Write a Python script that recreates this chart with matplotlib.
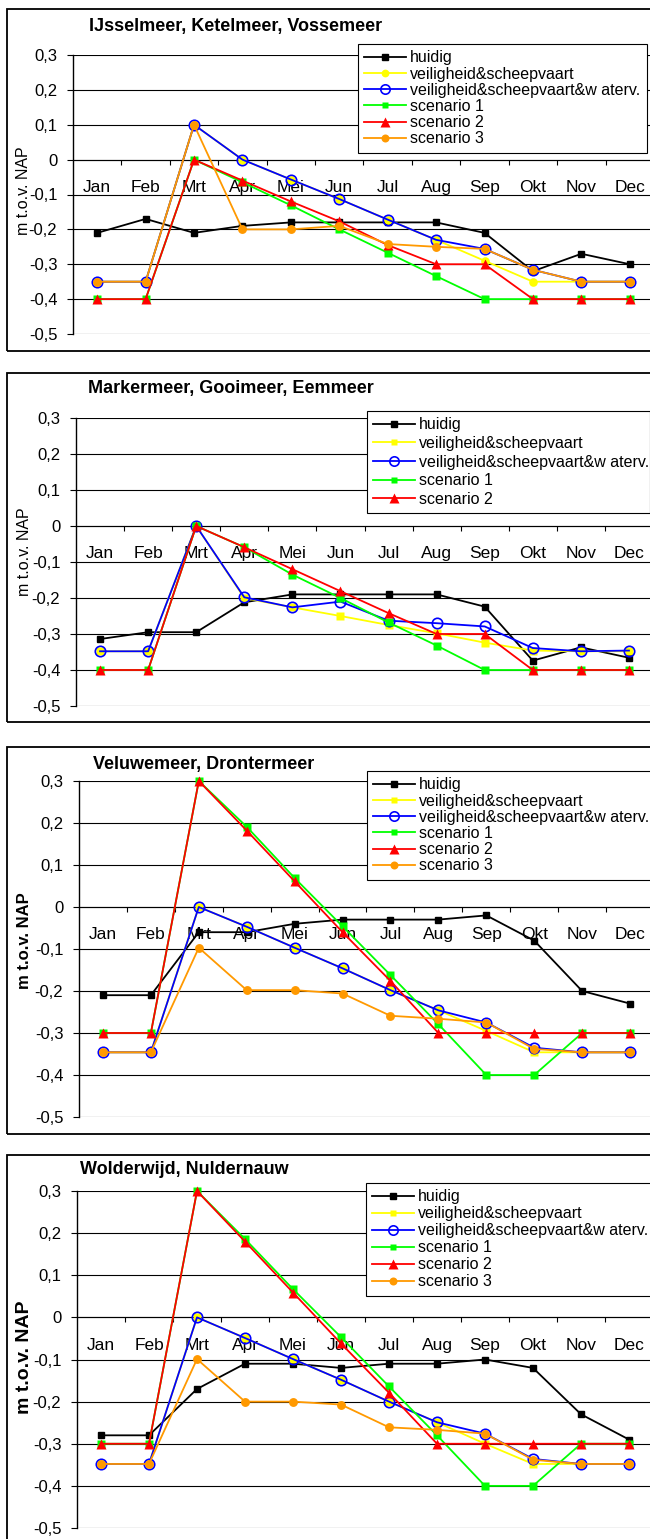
import numpy as np
import matplotlib
matplotlib.use("Agg")
import matplotlib.pyplot as plt
from matplotlib.patches import Rectangle
from matplotlib.ticker import FuncFormatter, MultipleLocator

plt.rcParams['font.family'] = ['Liberation Sans', 'DejaVu Sans']

# ---- data (m t.o.v. NAP) ----
MONTHS = ["Jan", "Feb", "Mrt", "Apr", "Mei", "Jun", "Jul", "Aug", "Sep", "Okt", "Nov", "Dec"]
LABELS = ["huidig", "veiligheid&scheepvaart", "veiligheid&scheepvaart&w aterv.",
          "scenario 1", "scenario 2", "scenario 3"]

# IJsselmeer, Ketelmeer, Vossemeer
IJ_HUIDIG = [-0.21, -0.17, -0.21, -0.19, -0.18, -0.18, -0.18, -0.18, -0.21, -0.32, -0.27, -0.30]
IJ_VS = [-0.35, -0.35, 0.10, 0.0, -0.057, -0.113, -0.172, -0.23, -0.29, -0.35, -0.35, -0.35]
IJ_VSW = [-0.35, -0.35, 0.10, 0.0, -0.057, -0.113, -0.172, -0.23, -0.256, -0.316, -0.35, -0.35]
IJ_S1 = [-0.40, -0.40, 0.0, -0.065, -0.131, -0.20, -0.267, -0.334, -0.40, -0.40, -0.40, -0.40]
IJ_S2 = [-0.40, -0.40, 0.0, -0.06, -0.12, -0.177, -0.245, -0.30, -0.30, -0.40, -0.40, -0.40]
IJ_S3 = [-0.35, -0.35, 0.10, -0.20, -0.20, -0.19, -0.242, -0.25, -0.256, -0.316, -0.35, -0.35]

# Markermeer, Gooimeer, Eemmeer (geen scenario 3)
MM_HUIDIG = [-0.314, -0.295, -0.295, -0.212, -0.19, -0.19, -0.19, -0.19, -0.224, -0.374, -0.337, -0.366]
MM_VS = [-0.348, -0.348, 0.0, -0.20, -0.226, -0.25, -0.275, -0.298, -0.324, -0.346, -0.348, -0.348]
MM_VSW = [-0.348, -0.348, 0.0, -0.198, -0.226, -0.21, -0.263, -0.27, -0.279, -0.339, -0.348, -0.346]
MM_S1 = [-0.40, -0.40, 0.0, -0.059, -0.135, -0.20, -0.268, -0.332, -0.40, -0.40, -0.40, -0.40]
MM_S2 = [-0.40, -0.40, 0.0, -0.059, -0.12, -0.181, -0.242, -0.30, -0.30, -0.40, -0.40, -0.40]

# Veluwemeer, Drontermeer
VM_HUIDIG = [-0.21, -0.21, -0.06, -0.06, -0.04, -0.03, -0.03, -0.03, -0.02, -0.08, -0.20, -0.23]
VM_VS = [-0.346, -0.346, 0.0, -0.047, -0.097, -0.146, -0.198, -0.246, -0.295, -0.346, -0.346, -0.346]
VM_VSW = [-0.346, -0.346, 0.0, -0.047, -0.097, -0.146, -0.198, -0.246, -0.275, -0.335, -0.346, -0.346]
VM_S1 = [-0.30, -0.30, 0.30, 0.191, 0.069, -0.046, -0.162, -0.279, -0.40, -0.40, -0.30, -0.30]
VM_S2 = [-0.30, -0.30, 0.30, 0.182, 0.061, -0.06, -0.176, -0.30, -0.30, -0.30, -0.30, -0.30]
VM_S3 = [-0.346, -0.346, -0.097, -0.198, -0.198, -0.206, -0.259, -0.266, -0.275, -0.338, -0.346, -0.346]

# Wolderwijd, Nuldernauw
WW_HUIDIG = [-0.28, -0.28, -0.17, -0.11, -0.11, -0.12, -0.11, -0.11, -0.10, -0.12, -0.23, -0.29]
WW_VS = [-0.348, -0.348, 0.0, -0.049, -0.099, -0.148, -0.20, -0.249, -0.30, -0.348, -0.348, -0.348]
WW_VSW = [-0.348, -0.348, 0.0, -0.049, -0.099, -0.148, -0.20, -0.249, -0.276, -0.336, -0.348, -0.348]
WW_S1 = [-0.30, -0.30, 0.30, 0.186, 0.067, -0.047, -0.164, -0.28, -0.40, -0.40, -0.30, -0.30]
WW_S2 = [-0.30, -0.30, 0.30, 0.18, 0.059, -0.062, -0.179, -0.30, -0.30, -0.30, -0.30, -0.30]
WW_S3 = [-0.348, -0.348, -0.099, -0.20, -0.20, -0.207, -0.261, -0.267, -0.276, -0.338, -0.348, -0.348]

# ---- layout (pixels in the 650x1539 image) ----
W, H = 650, 1539

def fx(px):
    return px / W

def fy(py):
    return 1 - py / H

def style(key, yellow_marker):
    if key == 0:
        return dict(color='black', marker='s', ms=5, mfc='black', mec='black', lw=1.3)
    if key == 1:
        ms = 6.2 if yellow_marker == 'o' else 5.5
        return dict(color='#FFFF00', marker=yellow_marker, ms=ms, mfc='#FFFF00', mec='none', lw=1.3)
    if key == 2:
        return dict(color='#0000FF', marker='o', ms=7.5, mfc='none', mec='#0000FF', mew=1.2, lw=1.3)
    if key == 3:
        return dict(color='#00FF00', marker='s', ms=5.5, mfc='#00FF00', mec='none', lw=1.3)
    if key == 4:
        return dict(color='#FF0000', marker='^', ms=7.5, mfc='#FF0000', mec='none', lw=1.3)
    return dict(color='#FF9900', marker='o', ms=6.4, mfc='#FF9900', mec='none', lw=1.3)


def yfmt(v, pos):
    if abs(v) < 1e-9:
        return '0'
    return f'{v:.1f}'.replace('.', ',')


def draw_panel(fig, box, plot, title, title_xy, ylab_xy, ylab_kw, series, yellow_marker,
               leg_box, leg_space):
    # outer chart border
    bx0, by0, bx1, by1 = box
    fig.patches.append(Rectangle((fx(bx0), fy(by1)), (bx1 - bx0) / W, (by1 - by0) / H,
                                 transform=fig.transFigure, fill=False,
                                 edgecolor='black', lw=1.3, zorder=0))

    left, top, right, bottom = plot
    ax = fig.add_axes([fx(left), fy(bottom), (right - left) / W, (bottom - top) / H])
    ax.set_facecolor('none')

    x = np.arange(len(MONTHS))
    handles = []
    for i, vals in enumerate(series):
        if vals is None:
            continue
        h, = ax.plot(x, vals, label=LABELS[i], clip_on=False, zorder=3 + i,
                     **style(i, yellow_marker))
        handles.append(h)

    ax.set_xlim(-0.5, 11.5)
    ax.set_ylim(-0.5, 0.3)
    ax.yaxis.set_major_locator(MultipleLocator(0.1))
    ax.yaxis.set_major_formatter(FuncFormatter(yfmt))
    ax.tick_params(axis='y', direction='out', length=4.3, width=0.8, pad=7, labelsize=12)

    # category boundaries get the tick marks, month names sit in between
    ax.set_xticks(np.arange(0.5, 11, 1))
    ax.set_xticklabels([])
    ax.set_xticks(x, minor=True)
    ax.set_xticklabels(MONTHS, minor=True)
    ax.tick_params(axis='x', which='major', direction='out', length=3.6, width=0.8)
    ax.tick_params(axis='x', which='minor', length=0, pad=14.5, labelsize=12.5)

    ax.spines['top'].set_visible(False)
    ax.spines['right'].set_visible(False)
    ax.spines['bottom'].set_position(('data', 0))
    ax.spines['bottom'].set_linewidth(0.8)
    ax.spines['left'].set_linewidth(1.0)
    ax.yaxis.grid(True, color='black', lw=0.8)
    ax.set_axisbelow(True)

    fig.text(fx(title_xy[0]), fy(title_xy[1]), title, ha='left', va='center',
             fontsize=13, fontweight='bold')
    fig.text(fx(ylab_xy[0]), fy(ylab_xy[1]), 'm t.o.v. NAP', rotation=90,
             ha='center', va='center', **ylab_kw)

    lx0, ly0, lx1 = leg_box
    leg = ax.legend(handles=handles, loc='upper left', mode='expand',
                    bbox_to_anchor=(fx(lx0), fy(ly0), (lx1 - lx0) / W, 0),
                    bbox_transform=fig.transFigure, borderaxespad=0,
                    fontsize=11.5, labelspacing=leg_space, borderpad=0.4,
                    handlelength=2.6, handletextpad=0.25, markerscale=0.9,
                    fancybox=False, framealpha=1, edgecolor='black')
    leg.get_frame().set_linewidth(0.8)
    leg.set_zorder(20)
    return ax


fig = plt.figure(figsize=(W / 100, H / 100), dpi=100)
fig.patch.set_facecolor('white')

draw_panel(fig, (7, 9, 660, 351), (73, 55, 654, 334),
           'IJsselmeer, Ketelmeer, Vossemeer', (89, 27), (24, 191),
           dict(fontsize=11.5),
           [IJ_HUIDIG, IJ_VS, IJ_VSW, IJ_S1, IJ_S2, IJ_S3], 'o',
           (358, 44, 647), 0.075)

draw_panel(fig, (7, 373, 660, 722), (76, 418, 653, 706),
           'Markermeer, Gooimeer, Eemmeer', (88, 388), (25, 552),
           dict(fontsize=11.5),
           [MM_HUIDIG, MM_VS, MM_VSW, MM_S1, MM_S2, None], 's',
           (367, 411, 649.5), 0.23)

draw_panel(fig, (7, 747, 660, 1134), (79, 781, 654, 1117),
           'Veluwemeer, Drontermeer', (93, 764), (25, 941),
           dict(fontsize=12, fontweight='bold'),
           [VM_HUIDIG, VM_VS, VM_VSW, VM_S1, VM_S2, VM_S3], 's',
           (367, 771, 665), 0.075)

draw_panel(fig, (7, 1155, 660, 1550), (77, 1191, 653, 1528),
           'Wolderwijd, Nuldernauw', (80, 1170), (25, 1357),
           dict(fontsize=14, fontweight='bold'),
           [WW_HUIDIG, WW_VS, WW_VSW, WW_S1, WW_S2, WW_S3], 's',
           (366, 1183, 665), 0.125)

fig.savefig('out.png', dpi=100)
